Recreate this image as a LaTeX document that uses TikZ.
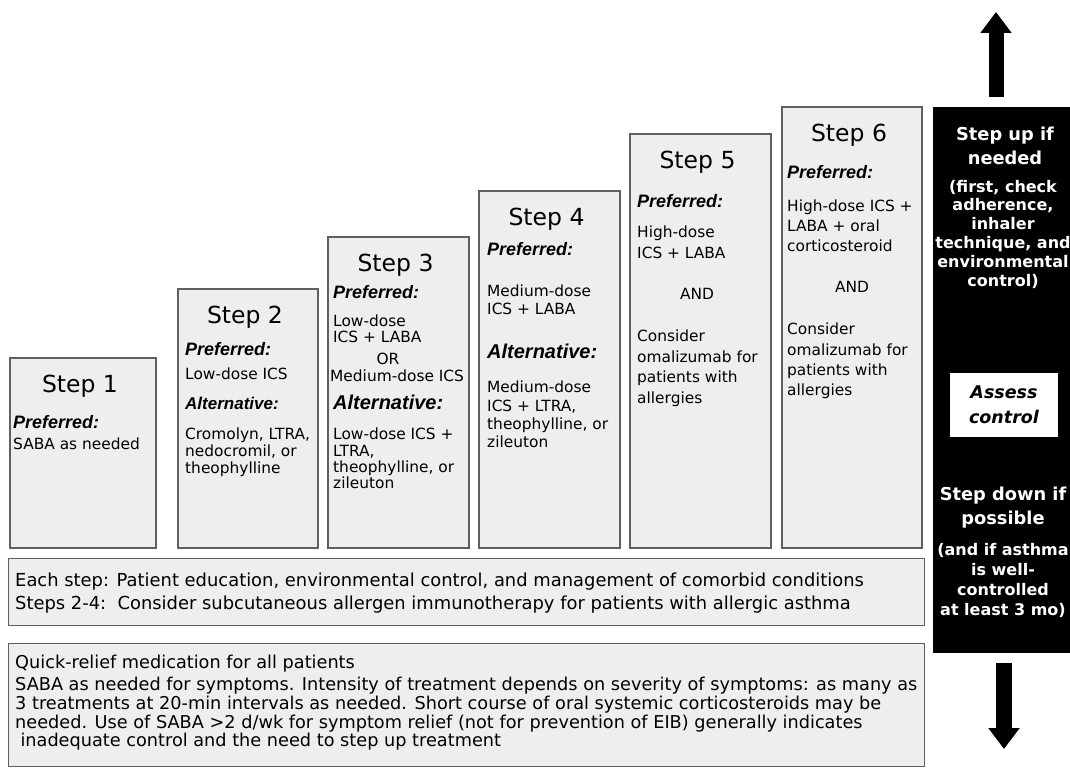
\documentclass[tikz,border=0pt]{standalone}
\usepackage{fontspec}
\setmainfont{DejaVu Sans}
\newfontfamily\headfont{Liberation Sans}
\usetikzlibrary{positioning, calc, arrows.meta}

\definecolor{boxfill}{RGB}{238,238,238}
\definecolor{boxline}{RGB}{95,95,95}

\begin{document}
\begin{tikzpicture}[
    x=1pt, y=-1pt,
    stepbox/.style={draw=boxline, fill=boxfill, line width=1.2pt, inner sep=0},
    steptitle/.style={anchor=base, inner sep=0, font=\fontsize{23.5}{26}\selectfont},
    prefhead/.style={anchor=base west, inner sep=0, font=\headfont\bfseries\itshape\fontsize{18}{20}\selectfont},
    althead/.style={anchor=base west, inner sep=0, font=\headfont\bfseries\itshape\fontsize{#1}{22}\selectfont},
    althead/.default=20,
    body/.style={anchor=north west, inner sep=0, align=left, font=\fontsize{15.4}{#1}\selectfont},
    body/.default=18,
    panelbox/.style={fill=black, inner sep=0},
    paneltitle/.style={anchor=north, inner sep=0, align=center, text=white, font=\bfseries\fontsize{17.8}{24}\selectfont},
    panelnote/.style={anchor=north, inner sep=0, align=center, text=white, font=\bfseries\fontsize{16}{#1}\selectfont},
    notebox/.style={draw=boxline, fill=boxfill, line width=1.2pt, inner sep=0, anchor=north west},
    notetext/.style={inner sep=0, align=left, font=\fontsize{17.7}{#1}\selectfont},
    notetext/.default=23,
    bigarrow/.style={line width=#1, -{Triangle[length=21pt, width=30pt]}}
  ]
    \useasboundingbox (0,0) rectangle (1070,773);
    \fill[white] (0,0) rectangle (1070,773);

    \foreach \n/\l/\t/\r in {1/10/358/156, 2/178/289/318, 3/328/237/469, 4/479/191/620, 5/630/134/771, 6/782/107/922} {
      \node[stepbox, minimum width={(\r-\l)*1pt}, minimum height={(548-\t)*1pt}] (step\n) at ({(\l+\r)/2},{(548+\t)/2}) {};
      \node[steptitle] (title\n) at ($(step\n.north)+(-3,35)$) {Step \n};
    }

    \node[prefhead] (pref1) at (13,428) {Preferred:};
    \node[body] (saba1) at (13,438) {SABA as needed};

    \node[prefhead] (pref2) at (185,355) {Preferred:};
    \node[body] (ics2) at (185,368) {Low-dose ICS};
    \node[althead=17] (alt2) at (185,409) {Alternative:};
    \node[body=17] (other2) at (185,428) {Cromolyn, LTRA,\\nedocromil, or\\theophylline};

    \node[prefhead] (pref3) at (333,298) {Preferred:};
    \node[body=16] (ics3) at (333,315) {Low-dose\\ICS + LABA};
    \node[body, anchor=base] (or3) at (388,364) {OR};
    \node[body, anchor=base west] (med3) at (330,381) {Medium-dose ICS};
    \node[althead] (alt3) at (333,409) {Alternative:};
    \node[body=16.3] (other3) at (333,428) {Low-dose ICS +\\LTRA,\\theophylline, or\\zileuton};

    \node[prefhead] (pref4) at (487,255) {Preferred:};
    \node[body=18] (ics4) at (487,285) {Medium-dose\\ICS + LABA};
    \node[althead] (alt4) at (487,358) {Alternative:};
    \node[body=18.3] (other4) at (487,381) {Medium-dose\\ICS + LTRA,\\theophylline, or\\zileuton};

    \node[prefhead] (pref5) at (637,207) {Preferred:};
    \node[body=21] (ics5) at (637,226) {High-dose\\ICS + LABA};
    \node[body, anchor=base] (and5) at (697,299) {AND};
    \node[body=20.5] (omal5) at (637,330) {Consider\\omalizumab for\\patients with\\allergies};

    \node[prefhead] (pref6) at (787,178) {Preferred:};
    \node[body=20] (ics6) at (787,200) {High-dose ICS +\\LABA + oral\\corticosteroid};
    \node[body, anchor=base] (and6) at (852,292) {AND};
    \node[body=20.3] (omal6) at (787,323) {Consider\\omalizumab for\\patients with\\allergies};

    \node[panelbox, minimum width=137pt, minimum height=546pt] (panel) at (1001.5,380) {};
    \node[paneltitle] (stepup) at (1005,127) {Step up if\\needed};
    \node[panelnote=18.8] (upnote) at (1003,179.7) {(first, check\\adherence,\\inhaler\\technique, and\\environmental\\control)};
    \node[fill=white, minimum width=108pt, minimum height=64pt, inner sep=0, align=center,
          font=\bfseries\itshape\fontsize{17.5}{25}\selectfont] (assess) at (1004,405) {Assess\\control};
    \node[paneltitle] (stepdown) at (1003,487) {Step down if\\possible};
    \node[panelnote=20] (downnote) at (1003,542.7) {(and if asthma\\is well-\\controlled\\at least 3 mo)};

    \coordinate (uptip) at (996,12);
    \coordinate (upfoot) at (996,97);
    \draw[bigarrow=15pt] (upfoot) -- (uptip);
    \coordinate (downtop) at (1004,663);
    \coordinate (downtip) at (1004,749);
    \draw[bigarrow=16pt] (downtop) -- (downtip);

    \node[notebox, minimum width=916pt, minimum height=67pt] (eachstep) at (8,558) {};
    \node[notetext, anchor=north west, font=\fontsize{17.9}{23}\selectfont] (eachtext) at (15,573) {Each step: Patient education, environmental control, and management of comorbid conditions\\Steps 2-4:\ \ Consider subcutaneous allergen immunotherapy for patients with allergic asthma};

    \node[notebox, minimum width=916pt, minimum height=123pt] (quick) at (8,643) {};
    \node[notetext, anchor=base west] (quickhead) at (15,668) {Quick-relief medication for all patients};
    \node[notetext=18.7, anchor=north west] (quicktext) at (15,677) {SABA as needed for symptoms. Intensity of treatment depends on severity of symptoms: as many as\\3 treatments at 20-min intervals as needed. Short course of oral systemic corticosteroids may be\\needed. Use of SABA >2 d/wk for symptom relief (not for prevention of EIB) generally indicates\\\hspace{0.3em}inadequate control and the need to step up treatment};
\end{tikzpicture}
\end{document}
